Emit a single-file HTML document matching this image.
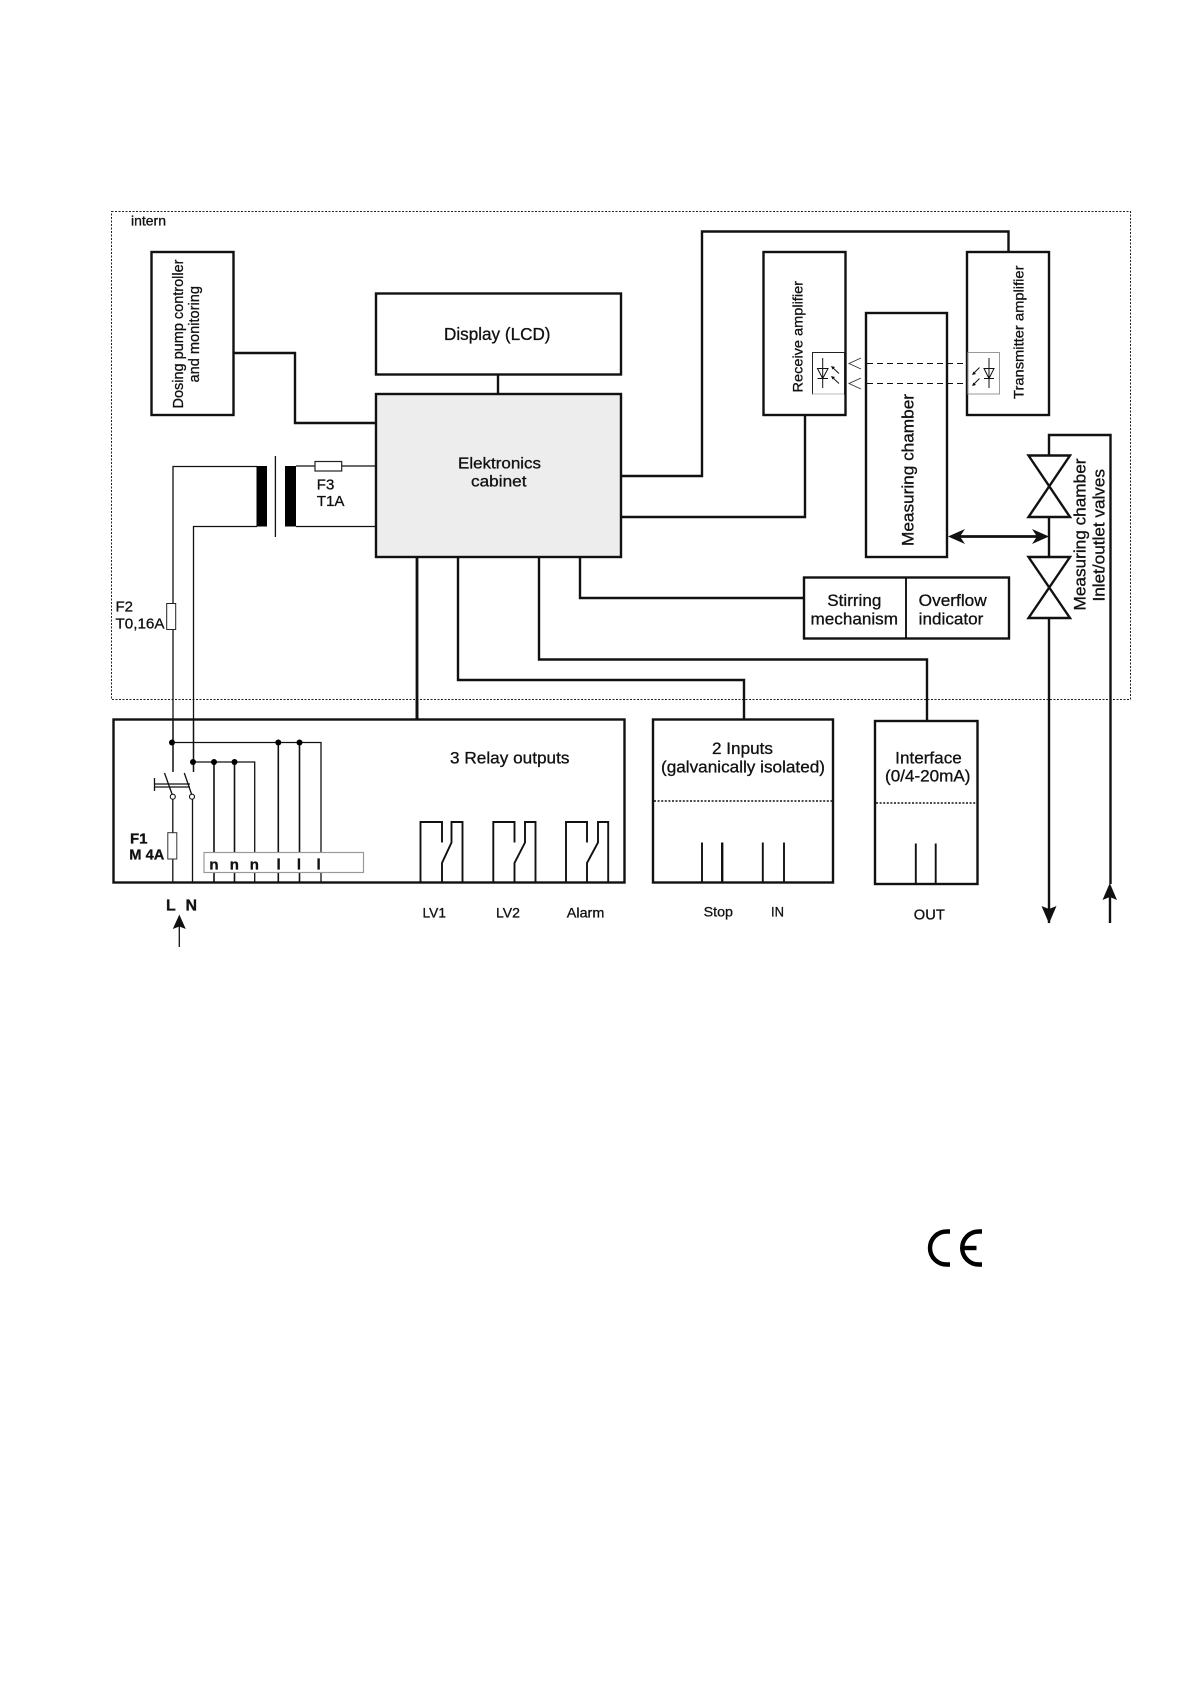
<!DOCTYPE html>
<html>
<head>
<meta charset="utf-8">
<style>
html,body{margin:0;padding:0;background:#fff;width:1190px;height:1684px;overflow:hidden}
svg{display:block}
text{font-family:"Liberation Sans",sans-serif;fill:#111;stroke:#111;stroke-width:0.3}
.b{fill:none;stroke:#111;stroke-width:2.4}
.t{fill:none;stroke:#111;stroke-width:1.3}
.m{fill:none;stroke:#111;stroke-width:1.9}
</style>
</head>
<body>
<svg width="1190" height="1684" viewBox="0 0 1190 1684" xmlns="http://www.w3.org/2000/svg">
<rect width="1190" height="1684" fill="#fff"/>
<!-- intern boundary -->
<rect x="111.5" y="211.5" width="1019" height="488" fill="none" stroke="#222" stroke-width="1" stroke-dasharray="2 1.5"/>
<text x="131" y="225.5" font-size="13.5" textLength="35" lengthAdjust="spacingAndGlyphs">intern</text>

<!-- wires (thick) -->
<path class="b" d="M234 353H295V423H376"/>
<path class="b" d="M498 374V394"/>
<path class="b" d="M621 476H702V231.5H1008.5V252"/>
<path class="b" d="M621 517H805V415"/>
<path class="b" style="stroke-width:2.8" d="M417 557V719"/>
<path class="b" d="M458 557V680H744V719"/>
<path class="b" d="M539 557V659.5H927V720"/>
<path class="b" d="M580 557V598H804"/>

<!-- boxes -->
<rect class="b" x="151.5" y="252" width="82" height="163" fill="#fff" style="fill:#fff"/>
<rect class="b" x="376" y="293.5" width="245" height="81" style="fill:#fff"/>
<rect class="b" x="376" y="394" width="245" height="163" style="fill:#ededed"/>
<rect class="b" x="763.5" y="252" width="82" height="163" style="fill:#fff"/>
<rect class="b" x="967" y="252" width="82" height="163" style="fill:#fff"/>
<rect class="b" x="866" y="313" width="81" height="244" style="fill:#fff"/>
<rect class="b" x="804" y="577.5" width="205" height="61" style="fill:#fff"/>
<path class="m" d="M906 577.5V638.5"/>

<!-- photo elements -->
<rect x="812.5" y="352.5" width="32" height="41.5" fill="#fff" stroke="#222" stroke-width="1"/>
<path d="M844 394H812.5" stroke="#bbb" stroke-width="1"/>
<rect x="968" y="352.5" width="31.5" height="41.5" fill="#fff" stroke="#999" stroke-width="1"/>
<g class="t" style="fill:none;stroke:#111;stroke-width:1">
<path d="M822.7 358V388M817.5 378.5H828M817.5 368.5H828L822.7 378.5Z"/>
<path d="M839 373.5L832 367M839 383.5L832 377"/>
<path d="M989 358V388M984 378.5H994M984 368.5H994L989 378.5Z"/>
<path d="M979.5 367.5L973 374M979.5 378.5L973 385"/>
</g>
<path d="M831 366L835 367L832.5 369.5ZM831 376L835 377L832.5 379.5ZM972 375L976 374L973.5 371.5ZM972 386L976 385L973.5 382.5Z" fill="#111"/>
<path d="M867 363.5H966M867 383.5H966" stroke="#111" stroke-width="1" stroke-dasharray="6 4" fill="none"/>
<path d="M861 358L849 363.5L861 369M861 378L849 383.5L861 389" fill="none" stroke="#333" stroke-width="0.9"/>

<!-- valves + pipes -->
<path class="b" d="M1049 923V435H1110.5V884"/>
<path class="b" style="fill:#fff" d="M1028.5 455.5H1070L1028.5 517H1070Z"/>
<path class="b" style="fill:#fff" d="M1028.5 557H1070L1028.5 618H1070Z"/>
<path class="b" style="stroke-width:2.8" d="M955 536.5H1042"/>
<path d="M948 536.5L965 529L960 536.5L965 544ZM1049 536.5L1032 529L1037 536.5L1032 544Z" fill="#111"/>
<path d="M1049 923.5L1041.5 906L1049 909L1056.5 906Z" fill="#111"/>
<path d="M1109.8 883L1102.5 900L1109.8 897L1117 900Z" fill="#111"/>
<path class="b" d="M1110 895V923"/>

<!-- transformer -->
<path class="t" d="M173 719V466.5H257"/>
<path class="t" d="M193.5 719V526.5H257"/>
<rect x="256.5" y="466" width="10.5" height="60.5" fill="#000"/>
<rect x="285" y="466" width="11" height="60.5" fill="#000"/>
<path class="t" d="M275.4 456V537"/>
<path class="t" d="M296 466H376M296 526.5H376" stroke="#222"/>
<rect x="315" y="461.5" width="26.7" height="9.5" fill="#fff" stroke="#222" stroke-width="1.2"/>
<rect x="166.7" y="603.5" width="9" height="26" fill="#fff" stroke="#222" stroke-width="1"/>

<!-- Relay box -->
<rect class="b" x="113.5" y="719.5" width="511" height="163" style="fill:#fff"/>
<path class="b" style="stroke-width:2.8" d="M417 700V719"/>
<path class="t" d="M172 742.5H321V882"/>
<path class="t" style="stroke-width:1.6" d="M278.3 742.5V882M299.5 742.5V882"/>
<path class="t" d="M193 762H254.7V882"/>
<path class="t" style="stroke-width:1.6" d="M214 762V882M234.5 762V882"/>
<path class="t" style="stroke-width:1.5" d="M173 720V772M193.5 720V772"/>
<g fill="#000">
<circle cx="172" cy="742.5" r="3"/><circle cx="278.3" cy="742.5" r="3"/><circle cx="299.5" cy="742.5" r="3"/>
<circle cx="193" cy="762" r="3"/><circle cx="214" cy="762" r="3"/><circle cx="234.5" cy="762" r="3"/>
</g>
<path class="t" d="M164.5 773L172 794M184.3 773L191.5 794"/>
<path class="t" d="M154.5 784H190M154.5 787H190M154.5 778V791"/>
<circle cx="172.8" cy="796.7" r="2.5" fill="#fff" stroke="#111" stroke-width="1.1"/>
<circle cx="192" cy="796.7" r="2.5" fill="#fff" stroke="#111" stroke-width="1.1"/>
<path class="t" d="M172.8 799V882M192.5 799V882"/>
<rect x="167.8" y="832.7" width="9" height="26.3" fill="#fff" stroke="#333" stroke-width="1"/>
<rect x="204" y="852.5" width="159.5" height="20" fill="#fff" stroke="#999" stroke-width="1.2"/>

<!-- Relay contacts -->
<path class="m" d="M420.5 882V822H442V842.5M462.5 882V822H451.5V842.5L442 863V882"/>
<path class="m" d="M493.3 882V822H514.5V842.5M535.5 882V822H525V842.5L514.5 863V882"/>
<path class="m" d="M566 882V822H587V842.5M608.2 882V822H598V842.5L587 863V882"/>

<!-- Inputs / Interface -->
<rect class="b" x="653" y="719.5" width="180" height="163" style="fill:#fff"/>
<path d="M654 801H832" stroke="#111" stroke-width="1.4" stroke-dasharray="2 1.6"/>
<path class="m" d="M702 842.5V882M762.8 842.5V882M784 842.5V882"/>
<path class="b" d="M722.2 842.5V882"/>
<rect class="b" x="875" y="721" width="102.5" height="163" style="fill:#fff"/>
<path d="M876 803H976" stroke="#111" stroke-width="1.4" stroke-dasharray="2 1.6"/>
<path class="m" d="M915.8 843.5V884M935.7 843.5V884"/>

<!-- L N arrow -->
<path class="t" d="M179.3 947V925"/>
<path d="M179.3 914.5L172.8 929L179.3 926.5L185.8 929Z" fill="#111"/>

<!-- Labels -->
<text transform="translate(183 408.5) rotate(-90)" font-size="15" textLength="149" lengthAdjust="spacingAndGlyphs">Dosing pump controller</text>
<text transform="translate(199 382.5) rotate(-90)" font-size="15" textLength="96.5" lengthAdjust="spacingAndGlyphs">and monitoring</text>
<text x="444" y="340" font-size="17.5" textLength="106.5" lengthAdjust="spacingAndGlyphs">Display (LCD)</text>
<text x="458" y="468.5" font-size="16" textLength="83" lengthAdjust="spacingAndGlyphs">Elektronics</text>
<text x="471" y="486.5" font-size="16" textLength="55.5" lengthAdjust="spacingAndGlyphs">cabinet</text>
<text x="316.8" y="489.5" font-size="15">F3</text>
<text x="316.8" y="506" font-size="15" textLength="27.7" lengthAdjust="spacingAndGlyphs">T1A</text>
<text x="115.5" y="611.5" font-size="15">F2</text>
<text x="115.5" y="628.5" font-size="15" textLength="49" lengthAdjust="spacingAndGlyphs">T0,16A</text>
<text transform="translate(802.5 392.5) rotate(-90)" font-size="14" textLength="111.5" lengthAdjust="spacingAndGlyphs">Receive amplifier</text>
<text transform="translate(1023.5 399) rotate(-90)" font-size="14" textLength="133.5" lengthAdjust="spacingAndGlyphs">Transmitter amplifier</text>
<text transform="translate(913.5 546) rotate(-90)" font-size="17" textLength="152" lengthAdjust="spacingAndGlyphs">Measuring chamber</text>
<text transform="translate(1085.5 610.5) rotate(-90)" font-size="17" textLength="152" lengthAdjust="spacingAndGlyphs">Measuring chamber</text>
<text transform="translate(1104.3 601.5) rotate(-90)" font-size="17" textLength="132.5" lengthAdjust="spacingAndGlyphs">Inlet/outlet valves</text>
<text x="827.3" y="606" font-size="16.5" textLength="54" lengthAdjust="spacingAndGlyphs">Stirring</text>
<text x="810.5" y="624.3" font-size="16.5" textLength="87.5" lengthAdjust="spacingAndGlyphs">mechanism</text>
<text x="918.7" y="606" font-size="16.5" textLength="68" lengthAdjust="spacingAndGlyphs">Overflow</text>
<text x="918.7" y="624.3" font-size="16.5" textLength="64.7" lengthAdjust="spacingAndGlyphs">indicator</text>
<text x="450" y="763.3" font-size="16.5" textLength="119.5" lengthAdjust="spacingAndGlyphs">3 Relay outputs</text>
<text x="712" y="754" font-size="16.5" textLength="61" lengthAdjust="spacingAndGlyphs">2 Inputs</text>
<text x="661" y="772.3" font-size="16.5" textLength="164" lengthAdjust="spacingAndGlyphs">(galvanically isolated)</text>
<text x="895.2" y="763.3" font-size="16.5" textLength="66.6" lengthAdjust="spacingAndGlyphs">Interface</text>
<text x="885" y="781.7" font-size="16.5" textLength="85.5" lengthAdjust="spacingAndGlyphs">(0/4-20mA)</text>
<text x="130" y="843.3" font-size="15" font-weight="bold">F1</text>
<text x="129.3" y="859.3" font-size="15" font-weight="bold" textLength="35" lengthAdjust="spacingAndGlyphs">M 4A</text>
<g font-size="15" font-weight="bold" text-anchor="middle">
<text x="214" y="869.7">n</text><text x="234.3" y="869.7">n</text><text x="254.3" y="869.7">n</text>
<text x="278.6" y="869.7">l</text><text x="299" y="869.7">l</text><text x="318.6" y="869.7">l</text>
</g>
<text x="166" y="910.3" font-size="16" font-weight="bold">L</text>
<text x="185.5" y="910.3" font-size="16" font-weight="bold">N</text>
<text x="422.5" y="917.3" font-size="14" textLength="23.5" lengthAdjust="spacingAndGlyphs">LV1</text>
<text x="496" y="917.3" font-size="14" textLength="24" lengthAdjust="spacingAndGlyphs">LV2</text>
<text x="566.8" y="917.3" font-size="14" textLength="37.5" lengthAdjust="spacingAndGlyphs">Alarm</text>
<text x="703.6" y="916.7" font-size="14" textLength="29.4" lengthAdjust="spacingAndGlyphs">Stop</text>
<text x="771" y="916.7" font-size="14" textLength="13" lengthAdjust="spacingAndGlyphs">IN</text>
<text x="913.8" y="919.3" font-size="14.5" textLength="31" lengthAdjust="spacingAndGlyphs">OUT</text>

<!-- CE mark -->
<path d="M950 1231.5H946.5A16.5 16.5 0 0 0 946.5 1264.5H950" fill="none" stroke="#000" stroke-width="4.4"/>
<path d="M982 1231.5H978.7A16.5 16.5 0 0 0 978.7 1264.5H982" fill="none" stroke="#000" stroke-width="4.4"/>
<path d="M964 1248H976.5" stroke="#000" stroke-width="4.4"/>
</svg>
</body>
</html>
